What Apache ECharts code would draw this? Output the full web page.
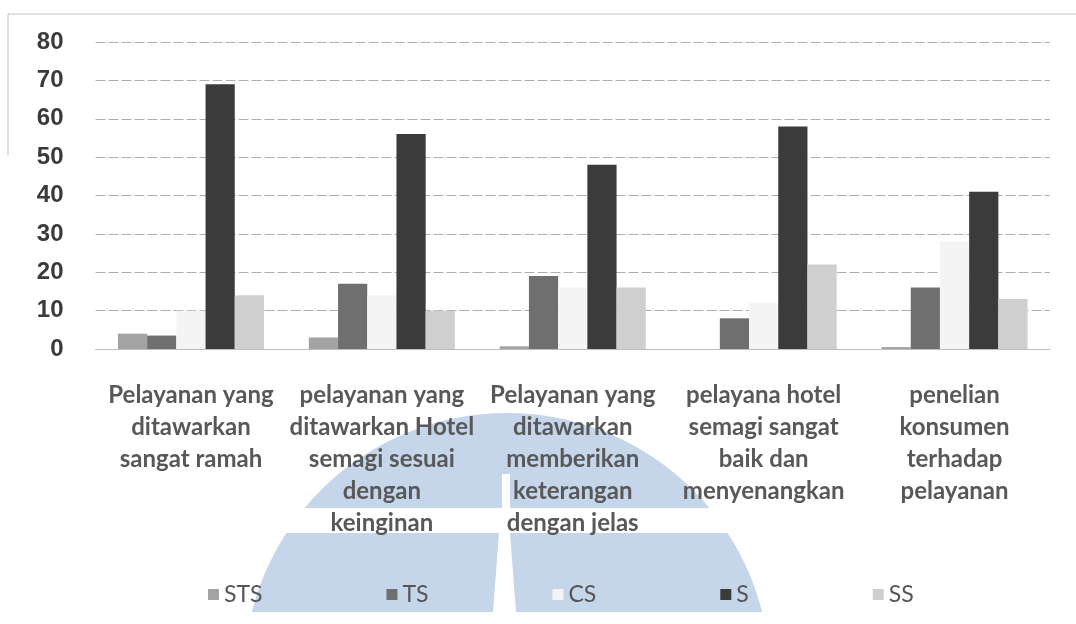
<!DOCTYPE html>
<html>
<head>
<meta charset="utf-8">
<script src="https://cdn.jsdelivr.net/npm/echarts@6/dist/echarts.min.js"></script>
<style>
  html, body { margin: 0; padding: 0; background: #fff; }
  #chart { width: 1076px; height: 624px; }
</style>
</head>
<body>
<div id="chart"></div>
<script>
// Survey answers per statement (percent of respondents)
const categories = [
  'Pelayanan yang\nditawarkan\nsangat ramah',
  'pelayanan yang\nditawarkan Hotel\nsemagi sesuai\ndengan\nkeinginan',
  'Pelayanan yang\nditawarkan\nmemberikan\nketerangan\ndengan jelas',
  'pelayana hotel\nsemagi sangat\nbaik dan\nmenyenangkan',
  'penelian\nkonsumen\nterhadap\npelayanan'
];
const seriesNames = ['STS', 'TS', 'CS', 'S', 'SS'];
const stsValues = [4, 3, 0.7, 0, 0.5];
const tsValues = [3.5, 17, 19, 8, 16];
const csValues = [10, 14, 16, 12, 28];
const sValues = [69, 56, 48, 58, 41];
const ssValues = [14, 10, 16, 22, 13];
const yTicks = { min: 0, max: 80, interval: 10 };

const seriesValues = [stsValues, tsValues, csValues, sValues, ssValues];
const seriesColors = ['#a3a3a3', '#6f6f6f', '#f4f4f4', '#3b3b3b', '#cfcfcf'];

const chart = echarts.init(document.getElementById('chart'), null, { renderer: 'canvas' });

const labelFont = 'Lato, "Open Sans", sans-serif';

chart.setOption({
  backgroundColor: '#ffffff',
  animation: false,
  grid: { left: 95.5, right: 26, top: 42, bottom: 275, containLabel: false },
  legend: {
    data: seriesNames,
    left: 203,
    top: 578,
    icon: 'rect',
    itemWidth: 11,
    itemHeight: 11,
    itemGap: 124,
    textStyle: { fontFamily: labelFont, fontSize: 23, color: '#555' }
  },
  xAxis: {
    type: 'category',
    data: categories,
    axisLine: { lineStyle: { color: '#bdbdbd' } },
    axisTick: { show: false },
    axisLabel: {
      interval: 0,
      margin: 30,
      fontFamily: labelFont,
      fontSize: 24,
      lineHeight: 32,
      color: '#585858',
      fontWeight: 'bold'
    }
  },
  yAxis: {
    type: 'value',
    min: yTicks.min,
    max: yTicks.max,
    interval: yTicks.interval,
    axisLine: { show: false },
    axisTick: { show: false },
    axisLabel: {
      margin: 32,
      fontFamily: '"Liberation Sans Narrow", "Liberation Sans", sans-serif',
      fontWeight: 'bold',
      fontSize: 24,
      color: '#3a3a3a'
    },
    splitLine: { lineStyle: { color: '#b0b0b0', type: [10, 3], width: 1 } }
  },
  series: seriesNames.map((name, i) => ({
    name: name,
    type: 'bar',
    data: seriesValues[i],
    barGap: '0%',
    barCategoryGap: '23.5%',
    itemStyle: { color: seriesColors[i] }
  })),
  graphic: [
    // faint frame of the chart area
    { type: 'line', z: -20, shape: { x1: 8, y1: 14, x2: 1076, y2: 14 }, style: { stroke: '#c4c4c4', lineWidth: 1 } },
    { type: 'line', z: -20, shape: { x1: 8, y1: 14, x2: 8, y2: 155 }, style: { stroke: '#c4c4c4', lineWidth: 1 } },
    // background emblem
    { type: 'circle', z: -10, shape: { cx: 507, cy: 676, r: 263 }, style: { fill: '#c5d6ea' } },
    { type: 'rect', z: -9, shape: { x: 230, y: 612, width: 560, height: 20 }, style: { fill: '#ffffff' } },
    { type: 'rect', z: -9, shape: { x: 230, y: 508, width: 560, height: 25 }, style: { fill: '#ffffff' } },
    { type: 'polygon', z: -9, shape: { points: [[502, 474], [510, 474], [510, 508], [502, 508]] }, style: { fill: '#ffffff' } },
    { type: 'polygon', z: -9, shape: { points: [[499, 533], [510, 533], [516, 612], [493, 612]] }, style: { fill: '#ffffff' } }
  ]
});
</script>
</body>
</html>
